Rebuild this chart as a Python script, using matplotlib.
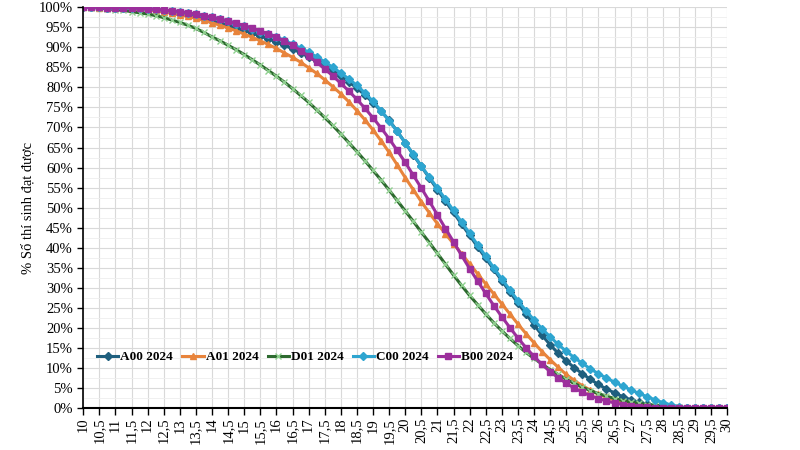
import numpy as np
import matplotlib
matplotlib.use("Agg")
import matplotlib.pyplot as plt
from matplotlib.ticker import MultipleLocator, PercentFormatter

plt.rcParams['font.family'] = ['Liberation Serif', 'DejaVu Serif']

# điểm số, bước 0,25
diem = np.arange(10, 30.001, 0.25)

# % thí sinh đạt được (mỗi dòng = 1 điểm)
a00 = [100, 100, 100, 99.9,
       99.9, 99.8, 99.7, 99.6,
       99.4, 99.2, 99.0, 98.7,
       98.4, 98.0, 97.6, 97.1,
       96.6, 96.0, 95.4, 94.8,
       94.2, 93.5, 92.8, 92.1,
       91.3, 90.5, 89.6, 88.6,
       87.6, 86.5, 85.4, 84.1,
       82.8, 81.4, 79.8, 78.1,
       76.2, 74.1, 71.8, 69.1,
       66.2, 63.2, 60.3, 57.4,
       54.5, 51.6, 48.8, 45.9,
       43.1, 40.2, 37.4, 34.6,
       31.8, 29.0, 26.2, 23.5,
       20.8, 18.2, 15.8, 13.7,
       11.8, 10.1, 8.6, 7.2,
       5.9, 4.8, 3.8, 2.9,
       2.1, 1.5, 1.0, 0.6,
       0.3, 0.2, 0.1, 0,
       0, 0, 0, 0,
       0]

a01 = [100, 100, 99.9, 99.9,
       99.8, 99.7, 99.6, 99.5,
       99.3, 99.1, 98.8, 98.5,
       98.1, 97.7, 97.2, 96.7,
       96.1, 95.5, 94.8, 94.1,
       93.3, 92.5, 91.6, 90.7,
       89.7, 88.6, 87.5, 86.3,
       84.9, 83.5, 81.9, 80.2,
       78.4, 76.4, 74.2, 71.9,
       69.4, 66.7, 63.8, 60.7,
       57.5, 54.5, 51.5, 48.7,
       46.0, 43.5, 41.0, 38.5,
       36.0, 33.5, 31.0, 28.5,
       26.0, 23.5, 21.0, 18.6,
       16.3, 14.1, 12.1, 10.2,
       8.4, 6.9, 5.6, 4.5,
       3.5, 2.7, 2.0, 1.5,
       1.0, 0.7, 0.45, 0.3,
       0.2, 0.1, 0.05, 0,
       0, 0, 0, 0,
       0]

d01 = [100, 99.9, 99.8, 99.6,
       99.4, 99.2, 98.9, 98.6,
       98.3, 97.9, 97.4, 96.8,
       96.2, 95.5, 94.7, 93.7,
       92.6, 91.6, 90.5, 89.4,
       88.2, 86.9, 85.6, 84.2,
       82.8, 81.3, 79.7, 78.0,
       76.3, 74.4, 72.5, 70.5,
       68.4, 66.2, 64.0, 61.7,
       59.3, 56.9, 54.4, 51.8,
       49.2, 46.6, 43.9, 41.3,
       38.6, 35.9, 33.2, 30.6,
       28.1, 25.8, 23.5, 21.3,
       19.3, 17.4, 15.6, 13.9,
       12.4, 11.0, 9.6, 8.4,
       7.2, 6.2, 5.2, 4.4,
       3.6, 3.0, 2.4, 1.9,
       1.5, 1.2, 0.9, 0.7,
       0.5, 0.3, 0.2, 0.1,
       0.1, 0, 0, 0,
       0]

c00 = [100, 100, 100, 99.9,
       99.9, 99.9, 99.8, 99.7,
       99.6, 99.5, 99.3, 99.1,
       98.9, 98.6, 98.3, 97.9,
       97.5, 97.0, 96.5, 95.9,
       95.3, 94.6, 93.9, 93.2,
       92.6, 91.7, 90.8, 89.8,
       88.8, 87.6, 86.4, 85.0,
       83.6, 82.1, 80.5, 78.6,
       76.5, 74.2, 71.7, 69.0,
       66.2, 63.3, 60.4, 57.6,
       54.9, 52.1, 49.3, 46.4,
       43.6, 40.7, 37.9, 35.0,
       32.2, 29.5, 26.8, 24.3,
       22.0, 19.8, 17.8, 15.9,
       14.2, 12.6, 11.2, 9.8,
       8.6, 7.5, 6.5, 5.5,
       4.6, 3.7, 2.9, 2.1,
       1.4, 0.8, 0.4, 0.1,
       0, 0, 0, 0,
       0]

b00 = [100, 100, 100, 99.9,
       99.9, 99.9, 99.8, 99.7,
       99.6, 99.5, 99.3, 99.1,
       98.9, 98.6, 98.3, 97.9,
       97.5, 97.0, 96.5, 96.0,
       95.4, 94.8, 94.1, 93.3,
       92.5, 91.5, 90.5, 89.2,
       87.8, 86.3, 84.6, 82.9,
       81.0, 79.1, 77.0, 74.8,
       72.4, 69.9, 67.2, 64.3,
       61.3, 58.1, 54.9, 51.6,
       48.2, 44.8, 41.5, 38.1,
       34.8, 31.7, 28.6, 25.6,
       22.8, 20.1, 17.5, 15.1,
       12.9, 10.9, 9.1, 7.6,
       6.2, 5.0, 4.0, 3.1,
       2.4, 1.8, 1.3, 0.9,
       0.6, 0.4, 0.25, 0.15,
       0.1, 0.1, 0.05, 0,
       0, 0, 0, 0,
       0]

fig = plt.figure(figsize=(8, 4.5), dpi=100)
ax = fig.add_axes([0.104, 0.093, 0.805, 0.891])

# vẽ theo thứ tự chú thích (B00 nằm trên cùng)
ax.plot(diem, a00, color='#1f5f7e', lw=2.2, marker='D', ms=4.5, label='A00 2024')
ax.plot(diem, a01, color='#e8843c', lw=2.2, marker='^', ms=5, label='A01 2024')
ax.plot(diem, d01, color='#2d6a2f', lw=2.2, marker='x', ms=4, mec='#8fd08f', mew=1, label='D01 2024')
ax.plot(diem, c00, color='#2ea5d0', lw=2.2, marker='D', ms=4.5, label='C00 2024')
ax.plot(diem, b00, color='#9c2f9c', lw=2.2, marker='s', ms=5, label='B00 2024')

ax.set_xlim(10, 30)
ax.set_ylim(0, 100)

xt = np.arange(10, 30.001, 0.5)
ax.set_xticks(xt)
ax.set_xticklabels([f"{v:g}".replace('.', ',') for v in xt], rotation=90, fontsize=10.5)
ax.yaxis.set_major_locator(MultipleLocator(5))
ax.yaxis.set_minor_locator(MultipleLocator(2.5))
ax.yaxis.set_major_formatter(PercentFormatter(decimals=0))
ax.tick_params(axis='y', labelsize=10.5, length=4, width=1)
ax.tick_params(axis='x', length=5, width=1, pad=2)
ax.tick_params(axis='y', which='minor', length=0)

ax.grid(True, which='major', color='#d9d9d9', lw=0.8)
ax.grid(True, which='minor', axis='y', color='#eeeeee', lw=0.6)
ax.set_axisbelow(True)

for s in ['top', 'right']:
    ax.spines[s].set_visible(False)
ax.spines['left'].set_linewidth(1.2)
ax.spines['bottom'].set_linewidth(1.5)

ax.set_ylabel('% Số thí sinh đạt được', fontsize=10.5)
ax.yaxis.set_label_coords(-0.075, 0.5)

ax.legend(loc='center left', bbox_to_anchor=(0.022, 0.127), ncol=5, frameon=False,
          prop={'size': 9.5, 'weight': 'bold'}, handlelength=1.6, handletextpad=0.15,
          columnspacing=0.7, borderaxespad=0, borderpad=0)

plt.savefig('out.png', dpi=100)
